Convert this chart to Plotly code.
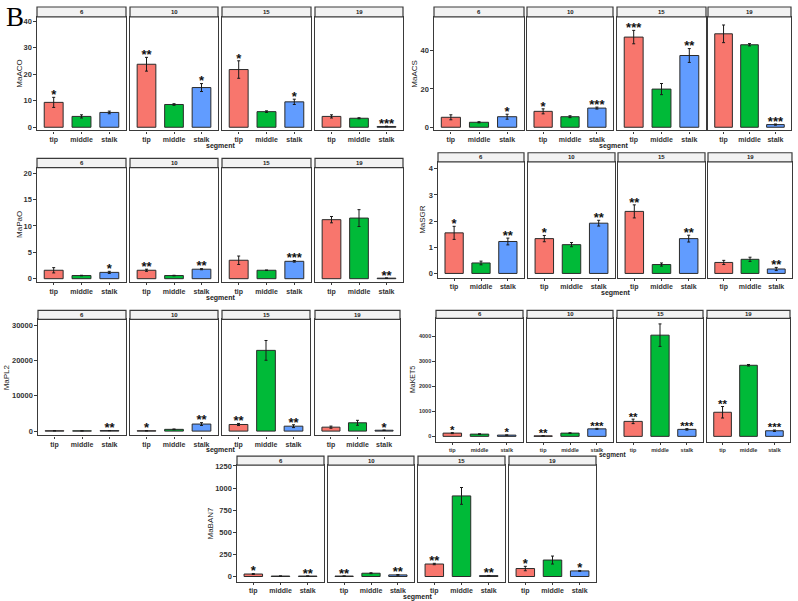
import plotly.graph_objects as go

# ---------------- data ----------------
stages = ["6", "10", "15", "19"]
segments = ["tip", "middle", "stalk"]
genes = ["MaACO", "MaACS", "MaPaO", "MaSGR", "MaPL2", "MaKET5", "MaBAN7"]

aco_mean = [[9.4, 4.1, 5.6], [23.8, 8.6, 15.0], [21.8, 5.9, 9.6], [4.1, 3.4, 0.3]]
aco_se = [[1.9, 0.6, 0.5], [2.6, 0.3, 1.5], [3.3, 0.3, 1.0], [0.6, 0.2, 0.1]]
aco_sig = [["*", "", ""], ["**", "", "*"], ["*", "", "*"], ["", "", "***"]]

acs_mean = [[5.2, 2.6, 5.5], [8.3, 5.5, 10.0], [47.0, 19.9, 37.4], [48.7, 43.0, 1.4]]
acs_se = [[1.3, 0.3, 1.3], [1.3, 0.5, 0.5], [3.5, 2.9, 3.6], [4.6, 0.6, 0.3]]
acs_sig = [["", "", "*"], ["*", "", "***"], ["***", "", "**"], ["", "", "***"]]

pao_mean = [[1.6, 0.6, 1.2], [1.6, 0.6, 1.8], [3.5, 1.6, 3.3], [11.2, 11.5, 0.1]]
pao_se = [[0.5, 0.05, 0.2], [0.2, 0.05, 0.1], [0.8, 0.05, 0.15], [0.6, 1.6, 0.05]]
pao_sig = [["", "", "*"], ["**", "", "**"], ["", "", "***"], ["", "", "**"]]

sgr_mean = [[1.55, 0.4, 1.22], [1.33, 1.1, 1.92], [2.37, 0.34, 1.33], [0.42, 0.54, 0.17]]
sgr_se = [[0.25, 0.07, 0.13], [0.12, 0.08, 0.11], [0.25, 0.06, 0.13], [0.08, 0.08, 0.06]]
sgr_sig = [["*", "", "**"], ["*", "", "**"], ["**", "", "**"], ["", "", "**"]]

pl2_mean = [[100, 80, 150], [100, 500, 2000], [1880, 22870, 1400], [1120, 2360, 250]]
pl2_se = [[20, 15, 30], [30, 100, 400], [300, 2800, 400], [300, 700, 60]]
pl2_sig = [["", "", "**"], ["*", "", "**"], ["**", "", "**"], ["", "", "*"]]

ket5_mean = [[130, 90, 50], [20, 130, 300], [600, 4050, 280], [965, 2845, 225]]
ket5_se = [[20, 15, 10], [5, 15, 20], [90, 450, 30], [230, 30, 30]]
ket5_sig = [["*", "", "*"], ["**", "", "***"], ["**", "", "***"], ["**", "", "***"]]

ban7_mean = [[28, 5, 5], [5, 37, 18], [141, 911, 10], [90, 186, 63]]
ban7_se = [[5, 1, 1], [1, 5, 4], [8, 95, 2], [25, 45, 5]]
ban7_sig = [["*", "", "**"], ["**", "", "**"], ["**", "", "**"], ["*", "", "*"]]

gene_means = [aco_mean, acs_mean, pao_mean, sgr_mean, pl2_mean, ket5_mean, ban7_mean]
gene_ses = [aco_se, acs_se, pao_se, sgr_se, pl2_se, ket5_se, ban7_se]
gene_sigs = [aco_sig, acs_sig, pao_sig, sgr_sig, pl2_sig, ket5_sig, ban7_sig]

seg_colors = ["#F8766D", "#00BA38", "#619CFF"]

# ---------------- layout (pixel geometry) ----------------
W, H = 798, 601
panels = [
    dict(fx=[(37, 126), (130, 218), (222, 311), (315, 403)], st=3, top=13, bot=127.5,
         zero=124.3, ppu=2.67, ticks=[0, 10, 20, 30, 40], ylx=20, tfs=7.5, xfs=7, segx=220, segy=143),
    dict(fx=[(434, 524), (527, 613), (617, 706), (708, 791)], st=3, top=13, bot=127.5,
         zero=124.3, ppu=1.935, ticks=[0, 20, 40], ylx=415, tfs=7.5, xfs=7, segx=613, segy=143),
    dict(fx=[(37, 126), (130, 218), (222, 311), (315, 403)], st=155.7, top=165, bot=280.5,
         zero=277, ppu=5.315, ticks=[0, 5, 10, 15, 20], ylx=20, tfs=7.5, xfs=7, segx=220, segy=296),
    dict(fx=[(438, 524), (528, 615), (618, 705), (708, 792)], st=150, top=159.3, bot=276,
         zero=271.7, ppu=26.4, ticks=[0, 1, 2, 3, 4], ylx=423, tfs=7.5, xfs=7, segx=615, segy=291),
    dict(fx=[(38, 126), (130, 218), (222, 310), (315, 400)], st=309, top=318, bot=435,
         zero=430.7, ppu=0.00356, ticks=[0, 10000, 20000, 30000], ylx=6, tfs=7.5, xfs=7, segx=220, segy=450),
    dict(fx=[(436, 523), (527, 613), (617, 703), (707, 790)], st=309, top=317, bot=441.5,
         zero=436, ppu=0.0252, ticks=[0, 1000, 2000, 3000, 4000], ylx=412, tfs=5.5, xfs=5.5, segx=613, segy=454.5),
    dict(fx=[(237, 324), (328, 414), (418, 505), (509, 596)], st=456, top=465, bot=582.7,
         zero=577.3, ppu=0.0892, ticks=[0, 250, 500, 750, 1000, 1250], ylx=210, tfs=7.5, xfs=7, segx=417, segy=597.5),
]
STAR_GAP_PX = 1.5

fig = go.Figure()
layout = dict(width=W, height=H, margin=dict(l=0, r=0, t=0, b=0),
              paper_bgcolor="white", plot_bgcolor="white", showlegend=False,
              font=dict(family="Liberation Sans, Arial, sans-serif", color="#333333"))
shapes, annotations = [], []

def px_x(p):
    return p / W

def px_y(p):
    return 1 - p / H

for gi, gene in enumerate(genes):
    P = panels[gi]
    ymax = (P["zero"] - P["top"]) / P["ppu"]
    ymin = -(P["bot"] - P["zero"]) / P["ppu"]
    for f, stage in enumerate(stages):
        idx = gi * 4 + f + 1
        xa = "x" if idx == 1 else f"x{idx}"
        ya = "y" if idx == 1 else f"y{idx}"
        xk = "xaxis" if idx == 1 else f"xaxis{idx}"
        yk = "yaxis" if idx == 1 else f"yaxis{idx}"
        x0, x1 = P["fx"][f]
        means = gene_means[gi][f]
        ses = gene_ses[gi][f]
        sigs = gene_sigs[gi][f]
        fig.add_trace(go.Bar(
            x=segments, y=means, xaxis=xa, yaxis=ya, width=0.68,
            marker=dict(color=seg_colors, line=dict(color="#2b2b2b", width=1)),
            error_y=dict(type="data", array=ses, visible=True, color="#1a1a1a",
                         thickness=1, width=1.5),
            hoverinfo="skip"))
        tops = [m + s + STAR_GAP_PX / P["ppu"] for m, s in zip(means, ses)]
        fig.add_trace(go.Scatter(
            x=segments, y=tops, xaxis=xa, yaxis=ya, mode="text", text=sigs,
            textposition="middle center",
            textfont=dict(size=13 if P["tfs"] > 6 else 11.5, color="#111111",
                          family="Liberation Sans, Arial, sans-serif", weight="bold"),
            hoverinfo="skip", cliponaxis=False))
        layout[xk] = dict(domain=[px_x(x0), px_x(x1)], anchor=ya, type="category",
                          categoryorder="array", categoryarray=segments,
                          range=[-0.6, 2.6], showgrid=False, zeroline=False,
                          showline=True, mirror=True, linecolor="#3a3a3a", linewidth=1.3,
                          ticks="outside", ticklen=2, tickcolor="#3a3a3a", tickangle=0,
                          tickfont=dict(size=P["xfs"], color="#333333", weight="bold"),
                          fixedrange=True)
        layout[yk] = dict(domain=[px_y(P["bot"]), px_y(P["top"])], anchor=xa,
                          range=[ymin, ymax], showgrid=False, zeroline=False,
                          showline=True, mirror=True, linecolor="#3a3a3a", linewidth=1.3,
                          tickvals=P["ticks"], tickformat="d",
                          showticklabels=(f == 0), ticks="outside" if f == 0 else "",
                          ticklen=2.5, tickcolor="#3a3a3a",
                          tickfont=dict(size=P["tfs"], color="#333333", weight="bold"),
                          fixedrange=True)
        # strip
        shapes.append(dict(type="rect", xref="paper", yref="paper",
                           x0=px_x(x0), x1=px_x(x1), y0=px_y(P["top"]), y1=px_y(P["st"]),
                           fillcolor="#F2F2F2", line=dict(color="#3a3a3a", width=1.2)))
        annotations.append(dict(xref="paper", yref="paper", x=px_x((x0 + x1) / 2),
                                y=px_y((P["st"] + P["top"]) / 2), text=stage, showarrow=False,
                                font=dict(size=6, color="#1a1a1a", weight="bold"),
                                xanchor="center", yanchor="middle"))
    # y-axis title
    annotations.append(dict(xref="paper", yref="paper", x=px_x(P["ylx"]),
                            y=px_y((P["top"] + P["bot"]) / 2), text=gene, textangle=-90,
                            showarrow=False, font=dict(size=8 if P["tfs"] > 6 else 7, color="#222222"),
                            xanchor="center", yanchor="middle"))
    # x-axis title
    annotations.append(dict(xref="paper", yref="paper", x=px_x(P["segx"]),
                            y=px_y(P["segy"]), text="segment", showarrow=False,
                            font=dict(size=7 if P["tfs"] > 6 else 6.5, color="#222222", weight="bold"),
                            xanchor="center", yanchor="middle"))

annotations.append(dict(xref="paper", yref="paper", x=px_x(4), y=px_y(13), text="B",
                        showarrow=False, xanchor="left", yanchor="middle",
                        font=dict(size=27, color="black",
                                  family="Liberation Serif, Times New Roman, serif")))

layout["shapes"] = shapes
layout["annotations"] = annotations
fig.update_layout(**layout)
fig.write_html("out.html", config={"displayModeBar": False},
               post_script="document.body.style.margin='0';document.body.style.overflow='hidden';")
